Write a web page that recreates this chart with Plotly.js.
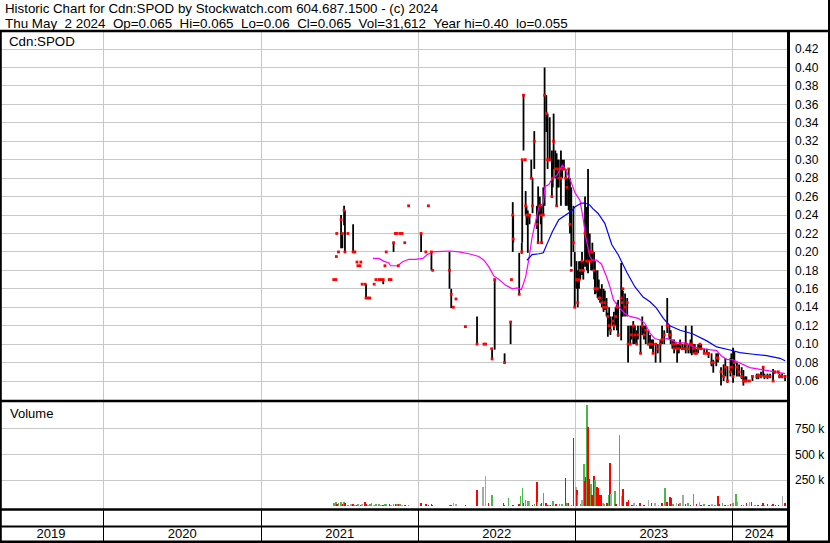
<!DOCTYPE html>
<html><head><meta charset="utf-8">
<script src="https://cdn.plot.ly/plotly-3.0.1.min.js"></script>
<style>html,body{margin:0;padding:0;background:#fff;}#chart{width:830px;height:543px;}</style>
</head><body><div id="chart"></div>
<script>
// ---------- DATA ----------
const headerLine1 = 'Historic Chart for Cdn:SPOD by Stockwatch.com 604.687.1500 - (c) 2024';
const headerLine2 = 'Thu May\u00a0\u00a02 2024\u00a0\u00a0Op=0.065\u00a0\u00a0Hi=0.065\u00a0\u00a0Lo=0.06\u00a0\u00a0Cl=0.065\u00a0\u00a0Vol=31,612\u00a0\u00a0Year hi=0.40\u00a0\u00a0lo=0.055';
const symbol = 'Cdn:SPOD';

const pDates = [
'2021-06-18','2021-06-23','2021-06-24','2021-06-25','2021-06-29','2021-07-05','2021-07-08','2021-07-12','2021-07-14','2021-07-21',
'2021-08-02','2021-08-06','2021-08-11','2021-08-13','2021-08-18','2021-08-20','2021-08-23','2021-08-30','2021-09-01','2021-09-06',
'2021-09-10','2021-09-20','2021-09-24','2021-10-01','2021-10-06','2021-10-11','2021-10-15','2021-10-18','2021-10-25','2021-10-29',
'2021-11-04','2021-11-08','2021-11-12','2021-11-15','2021-11-19','2021-11-24','2021-11-30','2021-12-09','2022-01-07','2022-01-18',
'2022-01-24','2022-01-31','2022-02-03','2022-03-14','2022-03-18','2022-03-23','2022-03-29','2022-04-20','2022-05-17','2022-06-02',
'2022-06-06','2022-06-20','2022-06-21','2022-06-27','2022-07-20','2022-08-03','2022-08-05','2022-08-08','2022-08-09','2022-08-23',
'2022-08-29','2022-08-30','2022-09-02','2022-09-06','2022-09-07','2022-09-09','2022-09-12','2022-09-16','2022-09-20','2022-09-23',
'2022-09-27','2022-10-03','2022-10-06','2022-10-10','2022-10-12','2022-10-14','2022-10-18','2022-10-21','2022-10-25','2022-10-28',
'2022-11-02','2022-11-07','2022-11-09','2022-11-11','2022-11-15','2022-11-18','2022-11-21','2022-11-23','2022-11-28','2022-12-01',
'2022-12-05','2022-12-09','2022-12-12','2022-12-16','2022-12-19','2022-12-22','2022-12-27','2022-12-30','2023-01-03','2023-01-06',
'2023-01-09','2023-01-12','2023-01-16','2023-01-19','2023-01-23','2023-01-27','2023-01-30','2023-02-03','2023-02-06','2023-02-09',
'2023-02-13','2023-02-15','2023-02-17','2023-02-21','2023-02-24','2023-02-27','2023-03-03','2023-03-07','2023-03-10','2023-03-14',
'2023-03-17','2023-03-20','2023-03-23','2023-03-28','2023-03-31','2023-04-04','2023-04-07','2023-04-10','2023-04-17','2023-04-19',
'2023-04-21','2023-04-26','2023-05-01','2023-05-03','2023-05-08','2023-05-11','2023-05-15','2023-05-19','2023-05-23','2023-05-26',
'2023-06-01','2023-06-05','2023-06-09','2023-06-13','2023-06-19','2023-06-23','2023-06-27','2023-06-30','2023-07-06','2023-07-11',
'2023-07-17','2023-07-21','2023-07-26','2023-08-02','2023-08-07','2023-08-10','2023-08-14','2023-08-18','2023-08-21','2023-08-25',
'2023-08-29','2023-09-01','2023-09-06','2023-09-11','2023-09-14','2023-09-20','2023-09-25','2023-09-28','2023-10-02','2023-10-05',
'2023-10-09','2023-10-13','2023-10-17','2023-10-20','2023-10-27','2023-11-02','2023-11-06','2023-11-13','2023-11-17','2023-11-24',
'2023-11-28','2023-12-05','2023-12-11','2023-12-15','2023-12-20','2023-12-27','2023-12-29','2024-01-02','2024-01-05','2024-01-11',
'2024-01-16','2024-01-22','2024-01-26','2024-01-30','2024-02-02','2024-02-09','2024-02-16','2024-02-26','2024-03-01','2024-03-07',
'2024-03-12','2024-03-15','2024-03-22','2024-03-28','2024-04-04','2024-04-08','2024-04-16','2024-04-19','2024-04-25','2024-05-02'];
const pHigh = [
.17,.17,.195,.22,.20,.24,.22,.25,.245,.22,
.23,.20,.189,.185,.185,.189,.165,.165,.165,.15,
.15,.165,.17,.17,.17,.17,.185,.20,.17,.17,
.21,.22,.22,.185,.22,.22,.21,.25,.22,.20,
.25,.20,.18,.20,.16,.14,.149,.119,.13,.10,
.10,.095,.094,.17,.09,.124,.17,.254,.24,.199,
.21,.30,.371,.30,.266,.25,.245,.24,.30,.28,
.331,.25,.271,.26,.25,.25,.27,.40,.37,.35,
.346,.31,.30,.35,.31,.307,.30,.30,.31,.30,
.30,.29,.28,.29,.28,.27,.25,.20,.19,.18,
.19,.19,.20,.19,.26,.249,.29,.22,.20,.21,
.20,.19,.18,.18,.17,.16,.165,.16,.158,.15,
.134,.14,.13,.13,.135,.14,.145,.148,.188,.16,
.158,.155,.15,.12,.12,.12,.125,.12,.115,.12,
.12,.13,.12,.12,.115,.11,.105,.105,.10,.10,
.105,.12,.115,.15,.12,.115,.105,.105,.10,.10,
.10,.105,.10,.10,.12,.10,.105,.12,.10,.10,
.095,.10,.10,.10,.095,.095,.09,.09,.083,.09,
.09,.075,.078,.085,.076,.085,.09,.096,.092,.08,
.078,.075,.072,.065,.065,.06,.065,.068,.068,.07,
.075,.068,.068,.068,.073,.07,.07,.068,.068,.065];
const pLow = [
.17,.17,.195,.22,.20,.204,.204,.229,.20,.22,
.20,.20,.189,.185,.185,.189,.165,.165,.15,.15,
.15,.165,.17,.17,.17,.165,.185,.20,.17,.17,
.20,.22,.22,.185,.22,.22,.21,.25,.20,.20,
.25,.18,.18,.16,.139,.14,.149,.119,.10,.10,
.10,.095,.084,.094,.08,.10,.17,.20,.21,.154,
.198,.21,.31,.30,.24,.229,.199,.23,.279,.242,
.29,.225,.21,.24,.23,.21,.24,.25,.33,.29,
.30,.26,.27,.29,.28,.25,.27,.27,.25,.28,
.29,.25,.25,.245,.22,.184,.20,.14,.16,.14,
.16,.17,.175,.17,.184,.18,.177,.19,.18,.18,
.17,.154,.155,.15,.148,.145,.14,.135,.137,.13,
.108,.115,.11,.12,.115,.12,.115,.108,.104,.13,
.13,.13,.13,.08,.10,.105,.10,.10,.10,.105,
.09,.11,.105,.10,.10,.095,.095,.09,.08,.09,
.08,.10,.10,.112,.105,.10,.095,.09,.095,.08,
.09,.095,.095,.095,.09,.09,.09,.088,.09,.09,
.09,.09,.095,.095,.09,.09,.085,.076,.069,.076,
.08,.055,.06,.065,.058,.065,.07,.058,.066,.065,
.065,.062,.055,.06,.06,.06,.06,.062,.062,.063,
.065,.062,.062,.063,.06,.068,.068,.063,.063,.06];
const pClose = [
.17,.17,.195,.22,.20,.235,.22,.245,.20,.22,
.20,.20,.189,.185,.185,.189,.165,.165,.15,.15,
.15,.165,.17,.17,.17,.17,.185,.20,.17,.17,
.21,.22,.22,.185,.22,.22,.21,.25,.22,.20,
.25,.20,.18,.18,.154,.14,.149,.119,.10,.10,
.10,.095,.084,.17,.08,.124,.17,.24,.214,.154,
.20,.30,.37,.30,.25,.24,.24,.24,.28,.25,
.32,.23,.21,.25,.24,.21,.24,.37,.35,.30,
.30,.26,.28,.32,.29,.25,.29,.28,.28,.29,
.29,.28,.27,.29,.23,.18,.21,.14,.17,.145,
.17,.18,.19,.18,.22,.19,.19,.20,.19,.20,
.18,.16,.16,.16,.15,.15,.145,.14,.145,.14,
.13,.12,.115,.125,.12,.13,.14,.11,.15,.145,
.16,.14,.145,.10,.10,.11,.12,.11,.10,.11,
.09,.12,.11,.115,.10,.10,.10,.09,.10,.095,
.10,.105,.11,.12,.11,.11,.10,.095,.10,.095,
.095,.10,.095,.095,.10,.095,.10,.10,.095,.09,
.09,.095,.10,.095,.09,.09,.09,.08,.08,.085,
.085,.07,.065,.075,.06,.07,.075,.065,.08,.075,
.07,.065,.06,.06,.06,.06,.065,.065,.066,.065,
.075,.065,.065,.065,.06,.07,.07,.065,.065,.065];

// Volume (thousands of shares); dir: u = up day, d = down day, n = unchanged
const vDates = [
'2021-06-18','2021-06-23','2021-06-25','2021-06-29','2021-07-05','2021-07-08','2021-07-12','2021-07-14','2021-07-21','2021-07-28',
'2021-08-02','2021-08-06','2021-08-11','2021-08-13','2021-08-20','2021-08-23','2021-08-30','2021-09-01','2021-09-06','2021-09-10',
'2021-09-14','2021-09-20','2021-09-24','2021-10-01','2021-10-06','2021-10-11','2021-10-15','2021-10-18','2021-10-25','2021-10-29',
'2021-11-04','2021-11-08','2021-11-12','2021-11-15','2021-11-19','2021-11-24','2021-11-30','2021-12-09','2022-01-07','2022-01-18',
'2022-01-24','2022-01-31','2022-02-03','2022-03-14','2022-03-18','2022-03-23','2022-03-29','2022-04-20','2022-05-17','2022-05-31',
'2022-06-06','2022-06-13','2022-06-20','2022-06-21','2022-07-18','2022-07-20','2022-07-29','2022-08-08','2022-08-22','2022-08-26',
'2022-08-31','2022-09-02','2022-09-07','2022-09-12','2022-09-16','2022-09-23','2022-09-28','2022-10-03','2022-10-05','2022-10-13',
'2022-10-14','2022-10-18','2022-10-24','2022-10-27','2022-10-31','2022-11-04','2022-11-10','2022-11-15','2022-11-18','2022-11-25',
'2022-12-01','2022-12-09','2022-12-12','2022-12-15','2022-12-22','2022-12-27','2023-01-02','2023-01-04','2023-01-06','2023-01-13',
'2023-01-16','2023-01-20','2023-01-23','2023-01-25','2023-01-27','2023-01-30','2023-02-02','2023-02-06','2023-02-08','2023-02-13',
'2023-02-15','2023-02-20','2023-02-23','2023-02-27','2023-03-02','2023-03-06','2023-03-08','2023-03-15','2023-03-20','2023-03-22',
'2023-03-24','2023-04-03','2023-04-05','2023-04-13','2023-04-18','2023-04-21','2023-05-01','2023-05-04','2023-05-12','2023-05-17',
'2023-05-23','2023-05-31','2023-06-09','2023-06-20','2023-06-27','2023-07-04','2023-07-13','2023-07-21','2023-07-28','2023-08-01',
'2023-08-08','2023-08-11','2023-08-15','2023-08-23','2023-08-29','2023-09-01','2023-09-08','2023-09-14','2023-09-19','2023-09-25',
'2023-10-02','2023-10-09','2023-10-16','2023-10-20','2023-10-27','2023-11-07','2023-11-14','2023-11-21','2023-11-28','2023-12-01',
'2023-12-08','2023-12-14','2023-12-21','2023-12-27','2024-01-02','2024-01-09','2024-01-12','2024-01-22','2024-01-26','2024-02-02',
'2024-02-09','2024-02-14','2024-02-22','2024-02-29','2024-03-08','2024-03-11','2024-03-15','2024-03-22','2024-04-01','2024-04-04',
'2024-04-10','2024-04-17','2024-04-26','2024-05-02'];
const vVol = [
30,45,25,35,40,20,40,30,15,20,
20,15,10,20,15,25,45,20,15,25,
35,15,20,20,15,15,20,25,20,15,
20,25,20,20,25,15,15,15,30,20,
15,20,15,15,15,35,20,15,155,183,
291,29,29,108,30,15,83,15,22,99,
176,35,60,50,50,15,25,234,45,20,
35,128,30,15,15,10,50,20,20,25,
25,272,30,35,10,657,183,157,109,25,
60,407,240,282,974,765,260,215,105,291,
250,183,176,112,109,30,22,28,109,420,
118,150,17,686,99,166,45,60,10,28,
10,35,8,60,28,35,10,30,173,40,
92,76,20,28,20,30,108,25,28,15,
115,20,44,15,20,12,20,15,99,25,
28,12,15,20,30,118,38,12,15,28,
38,38,10,12,12,28,15,18,15,25,
12,10,100,32];
const vDir = [
'u','u','d','u','u','d','u','d','u','n',
'd','n','d','u','d','n','d','d','n','u',
'u','n','u','u','n','d','u','u','d','n',
'u','d','u','d','u','n','d','u','d','d',
'd','d','d','u','d','n','n','d','d','n',
'n','d','d','u','d','d','u','d','d','u',
'u','d','u','u','n','d','u','d','n','u',
'd','u','d','d','n','d','u','d','d','u',
'u','d','u','d','u','d','n','d','u','u',
'n','u','d','d','u','d','d','u','d','d',
'u','d','d','d','d','n','u','d','u','d',
'n','u','d','u','n','d','d','d','d','n',
'u','d','d','n','d','n','n','d','u','d',
'd','d','u','n','d','u','n','d','u','d',
'u','d','n','d','u','d','n','u','d','d',
'u','d','n','d','u','u','n','d','u','d',
'n','d','u','d','u','d','n','d','u','d',
'd','d','n','d'];

// Moving averages
const maFastDates = ['2021-09-17','2021-10-01','2021-10-12','2021-10-24','2021-10-28','2021-11-14','2021-11-24','2021-12-09','2021-12-25','2022-01-11',
'2022-01-21','2022-02-02','2022-02-25','2022-03-16','2022-04-05','2022-04-28','2022-05-21','2022-06-02','2022-06-13','2022-06-25',
'2022-07-07','2022-07-22','2022-08-07','2022-08-18','2022-08-28','2022-09-07','2022-09-14','2022-09-22','2022-10-01','2022-10-08',
'2022-10-18','2022-10-22','2022-10-31','2022-11-08','2022-11-19','2022-12-01','2022-12-09','2022-12-18','2022-12-31','2023-01-11',
'2023-01-18','2023-01-24','2023-02-03','2023-02-09','2023-02-19','2023-03-02','2023-03-14','2023-03-22','2023-03-30','2023-04-10',
'2023-04-26','2023-05-07','2023-05-27','2023-06-11','2023-06-23','2023-07-04','2023-07-16','2023-08-01','2023-08-12','2023-08-24',
'2023-09-16','2023-10-01','2023-10-17','2023-11-10','2023-11-25','2023-12-06','2023-12-18','2024-01-02','2024-01-22','2024-02-10',
'2024-03-12','2024-04-12','2024-05-02'];
const maFastVals = [.193,.193,.190,.188,.185,.185,.189,.192,.192,.193,
.197,.200,.2006,.201,.200,.198,.195,.191,.184,.174,
.170,.164,.160,.161,.159,.173,.191,.216,.235,.249,
.253,.271,.273,.280,.283,.294,.289,.280,.264,.256,
.238,.218,.195,.191,.191,.187,.173,.162,.148,.141,
.133,.130,.128,.1226,.112,.106,.1045,.106,.1045,.1016,
.101,.097,.0955,.094,.093,.087,.0835,.083,.079,.0745,
.072,.070,.068];
const maSlowDates = ['2022-09-10','2022-09-22','2022-10-08','2022-10-18','2022-10-27','2022-11-08','2022-11-23','2022-12-09','2022-12-24','2022-12-31',
'2023-01-15','2023-01-23','2023-02-03','2023-02-10','2023-02-22','2023-03-10','2023-03-26','2023-04-10','2023-04-30','2023-05-19',
'2023-06-07','2023-06-23','2023-07-08','2023-07-24','2023-08-08','2023-09-01','2023-10-01','2023-11-02','2023-11-25','2023-12-26',
'2024-01-18','2024-02-18','2024-03-20','2024-04-20','2024-05-02'];
const maSlowVals = [.191,.197,.198,.199,.209,.222,.235,.240,.245,.249,
.253,.253,.251,.247,.242,.231,.208,.197,.178,.162,
.151,.146,.139,.128,.120,.115,.111,.1035,.097,.0936,
.0907,.089,.0875,.0846,.082];

// Axes
const xStart = '2019-05-09', xEnd = '2024-05-11';
const yearStarts = ['2020-01-01','2021-01-01','2022-01-01','2023-01-01','2024-01-01'];
const yearLabels = ['2019','2020','2021','2022','2023','2024'];
const yearLabelDates = ['2019-08-31','2020-07-01','2021-07-02','2022-07-02','2023-07-02','2024-03-03'];
const priceTicks = [0.06,0.08,0.10,0.12,0.14,0.16,0.18,0.20,0.22,0.24,0.26,0.28,0.30,0.32,0.34,0.36,0.38,0.40,0.42];
const volTicks = [250,500,750];
const volTickText = ['250 k','500 k','750 k'];

// ---------- LAYOUT HELPERS ----------
const W=830,H=543,ML=2,MR=41,MT=31,MB=2;
const PW=W-ML-MR, PH=H-MT-MB;
const fx = px => (px-ML)/PW;
const fy = py => (H-MB-py)/PH;
const FONT = 'Arial, "Liberation Sans", sans-serif';
const GRID = '#c8c8c8';
const DAY = 86400000;

// high-low segments
const hlX=[], hlY=[];
pDates.forEach((d,i)=>{ hlX.push(d,d,null); hlY.push(pLow[i],pHigh[i],null); });
const dirColor = {u:'#4cb84c', d:'#ff0000', n:'#a8a8a8'};

const traces = [
  {type:'bar', x:vDates, y:vVol, xaxis:'x', yaxis:'y2', width:3.5*DAY,
   marker:{color:vDir.map(k=>dirColor[k]), line:{width:0}}, hoverinfo:'skip'},
  {type:'scatter', mode:'lines', x:hlX, y:hlY, xaxis:'x2', yaxis:'y',
   line:{color:'#000', width:1.8}, connectgaps:false, hoverinfo:'skip'},
  {type:'scatter', mode:'lines', x:maFastDates, y:maFastVals, xaxis:'x2', yaxis:'y',
   line:{color:'#ff00ff', width:1.2}, hoverinfo:'skip'},
  {type:'scatter', mode:'lines', x:maSlowDates, y:maSlowVals, xaxis:'x2', yaxis:'y',
   line:{color:'#0000ff', width:1.2}, hoverinfo:'skip'},
  {type:'scatter', mode:'markers', x:pDates, y:pClose, xaxis:'x2', yaxis:'y',
   marker:{symbol:'square', size:2.8, color:'#ff0000', line:{width:0}}, hoverinfo:'skip'},
  {type:'scatter', mode:'text', x:yearLabelDates, y:yearLabels.map(()=>0.19), xaxis:'x3', yaxis:'y3',
   text:yearLabels, textfont:{family:FONT, size:13, color:'#000'}, hoverinfo:'skip', cliponaxis:false}
];

const xBase = {type:'date', range:[xStart,xEnd], tickmode:'array', tickvals:yearStarts,
  showticklabels:false, ticks:'', showgrid:true, gridcolor:GRID, gridwidth:1, zeroline:false, showline:false};

const blk = '#000';
function hline(py, x0, x1, w){ return {type:'line', xref:'paper', yref:'paper', x0:fx(x0), x1:fx(x1), y0:fy(py), y1:fy(py), line:{color:blk, width:w}}; }
function vline(px, y0, y1, w){ return {type:'line', xref:'paper', yref:'paper', x0:fx(px), x1:fx(px), y0:fy(y0), y1:fy(y1), line:{color:blk, width:w}}; }

const layout = {
  width:W, height:H, margin:{l:ML, r:MR, t:MT, b:MB, pad:0},
  paper_bgcolor:'#fff', plot_bgcolor:'#fff', showlegend:false, hovermode:false,
  font:{family:FONT, size:12, color:'#000'},
  bargap:0,
  xaxis: Object.assign({}, xBase, {anchor:'y2', domain:[0,1]}),
  xaxis2: Object.assign({}, xBase, {anchor:'y', matches:'x', domain:[0,1]}),
  xaxis3: Object.assign({}, xBase, {anchor:'y3', matches:'x', domain:[0,1], gridcolor:'#000'}),
  yaxis: {domain:[fy(400),1], range:[0.0394,0.4396], side:'right', anchor:'x2',
    tickmode:'array', tickvals:priceTicks, tickformat:'.2f', showgrid:true, gridcolor:GRID, gridwidth:1,
    ticks:'', ticklabelstandoff:5, tickfont:{family:FONT, size:12, color:'#000'}, zeroline:false, showline:false},
  yaxis2: {domain:[fy(509), fy(402)], range:[-27,1005], side:'right', anchor:'x',
    tickmode:'array', tickvals:volTicks, ticktext:volTickText, showgrid:true, gridcolor:GRID, gridwidth:1,
    ticks:'', ticklabelstandoff:5, tickfont:{family:FONT, size:12, color:'#000'}, zeroline:false, showline:false},
  yaxis3: {domain:[0, fy(509)], range:[0,1], anchor:'x3', showgrid:false, showticklabels:false, zeroline:false, showline:false, ticks:''},
  shapes: [
    hline(31, 0, 830, 2.5),
    hline(401, 0, 789, 2.5),
    hline(509.5, 0, 789, 2.5),
    hline(526.5, 0, 789, 2),
    hline(541.8, 0, 830, 2.5),
    vline(788.5, 30, 543, 3),
    vline(0.8, 30, 543, 2),
    vline(829, 0, 543, 2)
  ],
  annotations: [
    {xref:'paper', yref:'paper', x:fx(3), y:fy(8.5), xanchor:'left', yanchor:'middle', showarrow:false,
     text:headerLine1, font:{family:FONT, size:13.3, color:'#000'}},
    {xref:'paper', yref:'paper', x:fx(3), y:fy(23), xanchor:'left', yanchor:'middle', showarrow:false,
     text:headerLine2, font:{family:FONT, size:13.4, color:'#000'}},
    {xref:'paper', yref:'paper', x:fx(7), y:fy(41.5), xanchor:'left', yanchor:'middle', showarrow:false,
     text:symbol, font:{family:FONT, size:13.3, color:'#000'}},
    {xref:'paper', yref:'paper', x:fx(8), y:fy(413.5), xanchor:'left', yanchor:'middle', showarrow:false,
     text:'Volume', font:{family:FONT, size:13, color:'#000'}}
  ]
};

Plotly.newPlot('chart', traces, layout, {staticPlot:true, displayModeBar:false});
</script></body></html>
